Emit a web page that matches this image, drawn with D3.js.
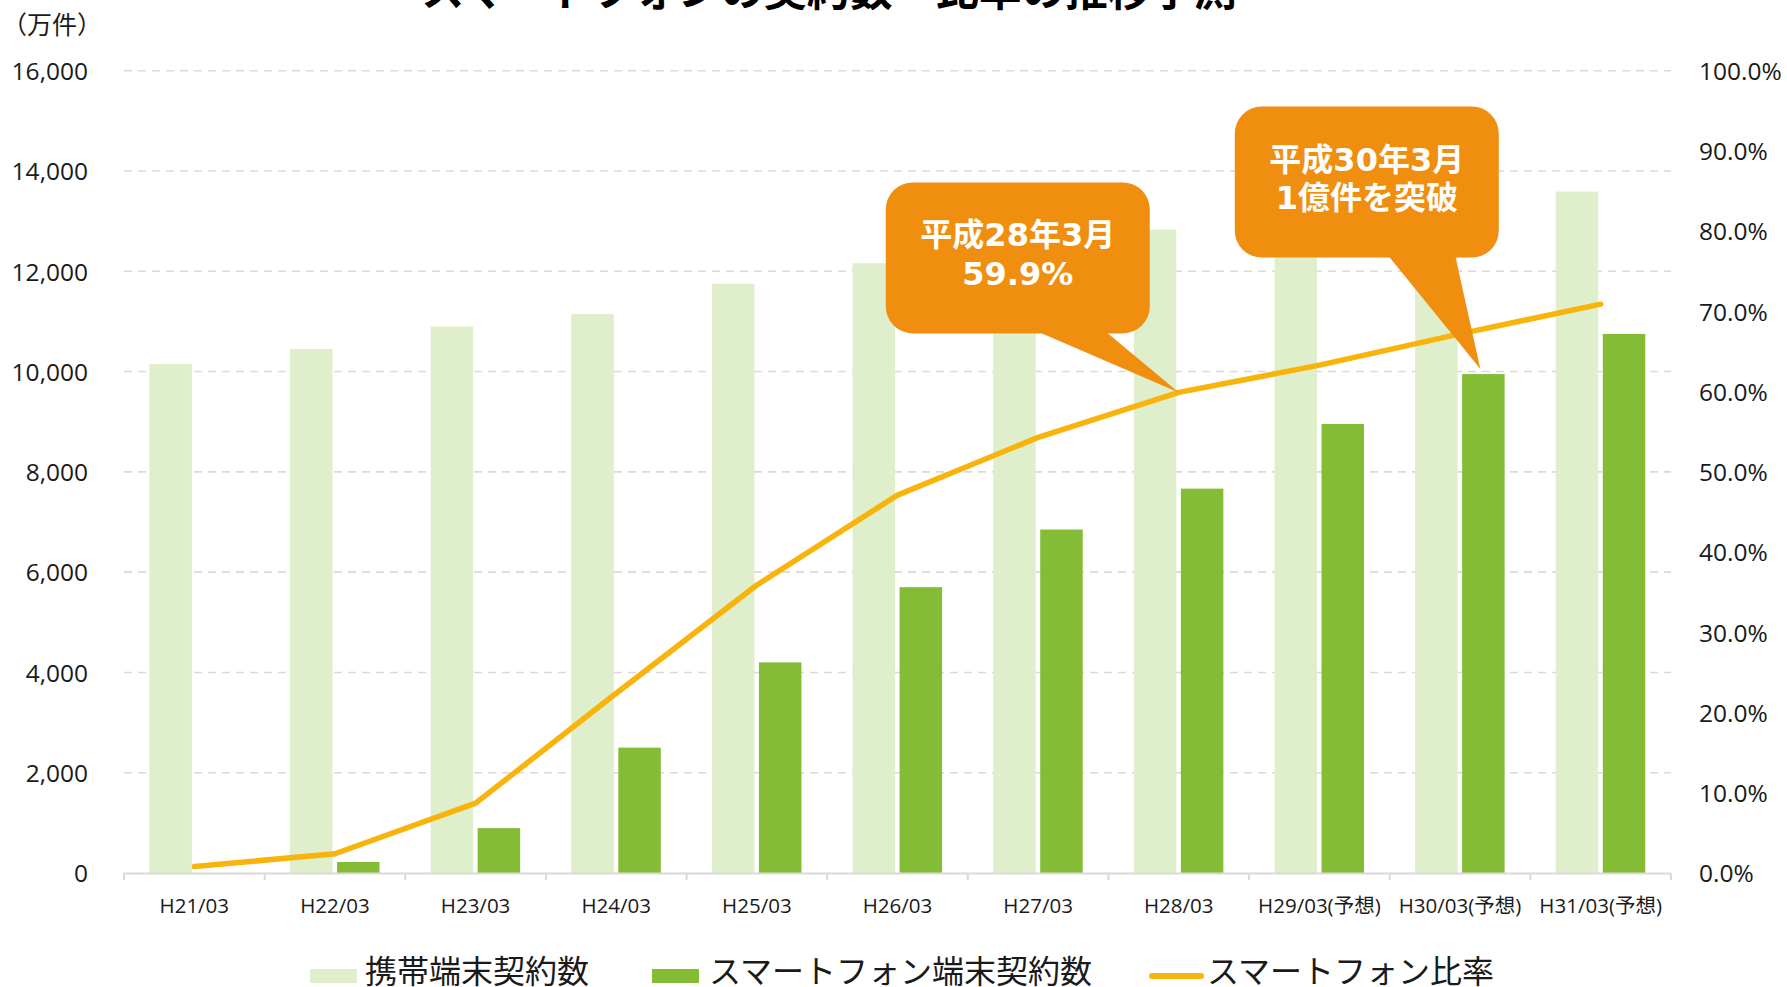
<!DOCTYPE html>
<html>
<head>
<meta charset="utf-8">
<script src="https://cdn.jsdelivr.net/npm/d3@7"></script>
<style>
  html, body { margin: 0; padding: 0; background: #ffffff; }
  svg { display: block; }
</style>
</head>
<body>
<svg id="chart" width="1787" height="987"></svg>
<script>
// ---------- data ----------
const categories = ["H21/03","H22/03","H23/03","H24/03","H25/03","H26/03","H27/03","H28/03","H29/03(予想)","H30/03(予想)","H31/03(予想)"];
const mobileContracts = [10150, 10450, 10900, 11150, 11750, 12160, 12550, 12830, 13100, 13350, 13590];
const smartphoneContracts = [0, 220, 895, 2500, 4200, 5700, 6850, 7665, 8955, 9950, 10750];
const smartphoneRatio = [0.8, 2.4, 8.7, 22.4, 35.9, 47.1, 54.3, 59.9, 63.3, 67.2, 70.9];
const leftTicks = [0, 2000, 4000, 6000, 8000, 10000, 12000, 14000, 16000];
const rightTicks = [0, 10, 20, 30, 40, 50, 60, 70, 80, 90, 100];
const seriesNames = ["携帯端末契約数", "スマートフォン端末契約数", "スマートフォン比率"];
const titleText = "スマートフォンの契約数・比率の推移予測";
const unitText = "（万件）";
const callouts = [
  { lines: ["平成28年3月", "59.9%"], category: "H28/03", anchor: "ratio" },
  { lines: ["平成30年3月", "1億件を突破"], category: "H30/03(予想)", anchor: "smart" }
];

// ---------- style ----------
const C = {
  light: "#DFEECB",
  green: "#84BC35",
  line: "#F8B40A",
  orange: "#F08E10",
  grid: "#D9D9D9",
  text: "#1a1a1a"
};
const latin = "'Open Sans', 'Noto Sans CJK JP', sans-serif";
const cjk = "'Noto Sans CJK JP', sans-serif";
const calloutFont = "'DejaVu Sans', 'Noto Sans CJK JP', sans-serif";

const svg = d3.select("#chart");
const plot = { left: 124, right: 1671, top: 70.7, bottom: 873 };

// ---------- scales ----------
const x = d3.scaleBand().domain(categories).range([plot.left, plot.right]).padding(0);
const bw = x.bandwidth();
const xInner = d3.scaleBand().domain(["mobile", "smart"])
  .range([bw * 0.1805, bw * 0.817]).paddingInner(0.096).paddingOuter(0);
const yL = d3.scaleLinear().domain([0, 16000]).range([plot.bottom, plot.top]);
const yR = d3.scaleLinear().domain([0, 100]).range([plot.bottom, plot.top]);

// ---------- title (cut off at top) ----------
svg.append("text")
  .attr("x", 829).attr("y", 6)
  .attr("text-anchor", "middle")
  .attr("font-family", cjk).attr("font-weight", "bold")
  .attr("font-size", 43).attr("fill", "#000")
  .text(titleText);

// ---------- unit label ----------
svg.append("text")
  .attr("x", 2).attr("y", 34)
  .attr("font-family", cjk).attr("font-size", 25).attr("fill", C.text)
  .text(unitText);

// ---------- gridlines ----------
svg.append("g").selectAll("line")
  .data(leftTicks.filter(d => d > 0))
  .join("line")
  .attr("x1", plot.left).attr("x2", plot.right)
  .attr("y1", d => yL(d)).attr("y2", d => yL(d))
  .attr("stroke", C.grid).attr("stroke-width", 1.6)
  .attr("stroke-dasharray", "8,6");

// ---------- left axis ----------
const leftAxis = d3.axisLeft(yL).tickValues(leftTicks).tickFormat(d3.format(",")).tickSize(0).tickPadding(0);
const gL = svg.append("g").attr("transform", `translate(88,0)`).call(leftAxis);
gL.select(".domain").remove();
gL.selectAll("text")
  .attr("font-family", latin).attr("font-size", 24.5).attr("fill", C.text)
  .attr("dy", "0.357em").attr("x", 0);

// ---------- right axis ----------
const rightAxis = d3.axisRight(yR).tickValues(rightTicks).tickFormat(d => d.toFixed(1) + "%").tickSize(0).tickPadding(0);
const gR = svg.append("g").attr("transform", `translate(1699,0)`).call(rightAxis);
gR.select(".domain").remove();
gR.selectAll("text")
  .attr("font-family", latin).attr("font-size", 24.5).attr("fill", C.text)
  .attr("dy", "0.357em").attr("x", 0);

// ---------- bars ----------
const groups = svg.append("g").selectAll("g")
  .data(categories.map((c, i) => ({ c, m: mobileContracts[i], s: smartphoneContracts[i] })))
  .join("g")
  .attr("transform", d => `translate(${x(d.c)},0)`);

groups.append("rect")
  .attr("x", xInner("mobile")).attr("width", xInner.bandwidth())
  .attr("y", d => yL(d.m)).attr("height", d => yL(0) - yL(d.m))
  .attr("fill", C.light);

groups.filter(d => d.s > 0).append("rect")
  .attr("x", xInner("smart")).attr("width", xInner.bandwidth())
  .attr("y", d => yL(d.s)).attr("height", d => yL(0) - yL(d.s))
  .attr("fill", C.green);

// ---------- x axis ----------
const gX = svg.append("g");
gX.append("line")
  .attr("x1", plot.left).attr("x2", plot.right)
  .attr("y1", plot.bottom + 0.5).attr("y2", plot.bottom + 0.5)
  .attr("stroke", C.grid).attr("stroke-width", 2);
const bounds = categories.map(c => x(c)).concat([plot.right]);
gX.selectAll("line.tick").data(bounds).join("line")
  .attr("class", "tick")
  .attr("x1", d => d).attr("x2", d => d)
  .attr("y1", plot.bottom).attr("y2", plot.bottom + 7)
  .attr("stroke", C.grid).attr("stroke-width", 2);
gX.selectAll("text").data(categories).join("text")
  .attr("x", d => x(d) + bw / 2).attr("y", 913)
  .attr("text-anchor", "middle")
  .attr("font-family", latin).attr("font-size", 20.5).attr("fill", C.text)
  .text(d => d);

// ---------- ratio line ----------
const lineGen = d3.line()
  .x((d, i) => x(categories[i]) + bw / 2)
  .y(d => yR(d));
svg.append("path")
  .datum(smartphoneRatio)
  .attr("d", lineGen)
  .attr("fill", "none")
  .attr("stroke", C.line).attr("stroke-width", 5.5)
  .attr("stroke-linecap", "round").attr("stroke-linejoin", "round");

// ---------- callouts ----------
const boxW = 264, boxH = 151, rr = 27;
callouts.forEach(co => {
  const i = categories.indexOf(co.category);
  let tip, left, top, b0, b1;
  if (co.anchor === "ratio") {
    tip = { x: x(co.category) + bw / 2, y: yR(smartphoneRatio[i]) };
    left = tip.x - 293; top = tip.y - 210;
    b0 = tip.x - 139; b1 = tip.x - 72;
  } else {
    tip = { x: x(co.category) + xInner("smart") + xInner.bandwidth() / 2 - 3, y: yL(smartphoneContracts[i]) - 5 };
    left = tip.x - 245.6; top = tip.y - 262.5;
    b0 = tip.x - 91.5; b1 = tip.x - 25;
  }
  const g = svg.append("g");
  g.append("rect")
    .attr("x", left).attr("y", top).attr("width", boxW).attr("height", boxH)
    .attr("rx", rr).attr("ry", rr).attr("fill", C.orange);
  g.append("path")
    .attr("d", `M${b0},${top + boxH - 1} L${tip.x},${tip.y} L${b1},${top + boxH - 1} Z`)
    .attr("fill", C.orange);
  co.lines.forEach((t, k) => {
    g.append("text")
      .attr("x", left + boxW / 2).attr("y", top + 64 + k * 38.5)
      .attr("text-anchor", "middle")
      .attr("font-family", calloutFont).attr("font-weight", "bold")
      .attr("font-size", 32).attr("fill", "#ffffff")
      .text(t);
  });
});

// ---------- legend ----------
const lg = svg.append("g");
lg.append("rect").attr("x", 310).attr("y", 969).attr("width", 47).attr("height", 14).attr("fill", C.light);
lg.append("text").attr("x", 365).attr("y", 983)
  .attr("font-family", cjk).attr("font-size", 32).attr("fill", C.text).text(seriesNames[0]);
lg.append("rect").attr("x", 652).attr("y", 969).attr("width", 47).attr("height", 14).attr("fill", C.green);
lg.append("text").attr("x", 709).attr("y", 983)
  .attr("font-family", cjk).attr("font-size", 32).attr("fill", C.text).text(seriesNames[1]);
lg.append("line").attr("x1", 1152).attr("x2", 1201).attr("y1", 976).attr("y2", 976)
  .attr("stroke", C.line).attr("stroke-width", 6).attr("stroke-linecap", "round");
lg.append("text").attr("x", 1207).attr("y", 983)
  .attr("font-family", cjk).attr("font-size", 32).attr("fill", C.text).text(seriesNames[2]);
</script>
</body>
</html>
